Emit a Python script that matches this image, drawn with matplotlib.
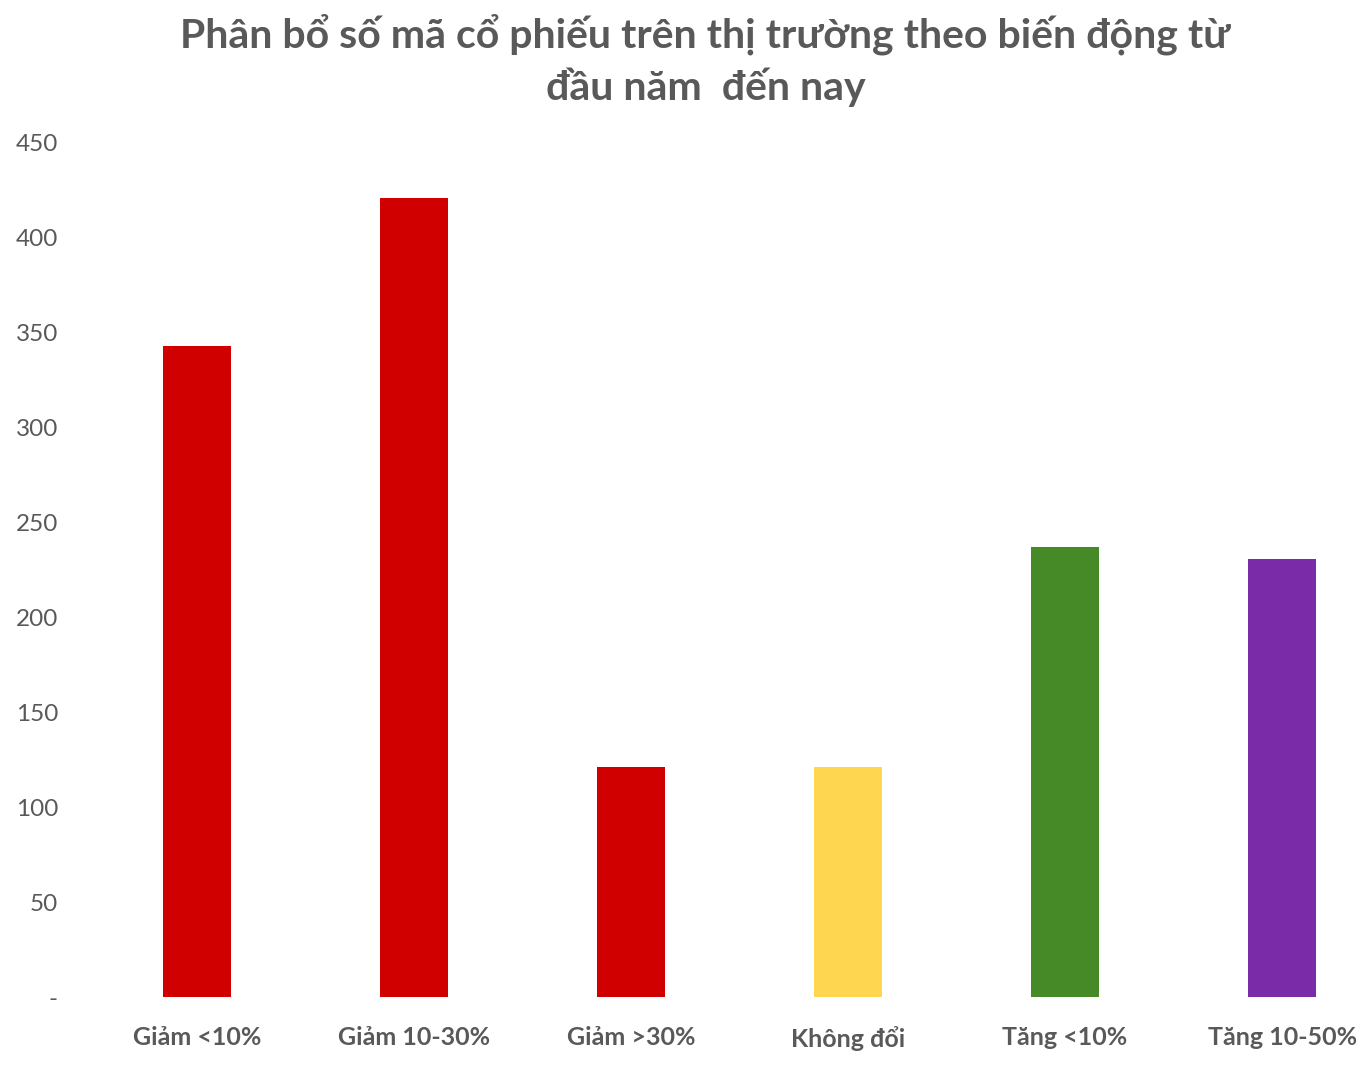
import matplotlib
matplotlib.use("Agg")
import matplotlib.pyplot as plt

categories = ["Giảm <10%", "Giảm 10-30%", "Giảm >30%", "Không đổi", "Tăng <10%", "Tăng 10-50%"]
counts = [343, 421, 121, 121, 237, 231]
bar_colors = ["#D00000", "#D00000", "#D00000", "#FFD64F", "#458A26", "#7A2BA8"]
yticks = [0, 50, 100, 150, 200, 250, 300, 350, 400, 450]
ytick_labels = ["-"] + [str(v) for v in yticks[1:]]

plt.rcParams["font.family"] = ["Lato", "DejaVu Sans"]
grey = "#595959"

fig = plt.figure(figsize=(13.7, 10.66), dpi=100)
ax = fig.add_axes([0.0646, 0.0647, 0.9354, 0.8012])

x = range(len(categories))
ax.bar(x, counts, width=0.31, color=bar_colors)

ax.set_xlim(-0.5, 5.405)
ax.set_ylim(0, 450)
ax.set_xticks(list(x))
ax.set_xticklabels(categories, fontsize=18, fontweight="bold", color=grey)
ax.set_yticks(yticks)
ax.set_yticklabels(ytick_labels, fontsize=17.5, color=grey)
ax.tick_params(axis="y", length=0, pad=22)
ax.tick_params(axis="x", length=0, pad=21)
for s in ax.spines.values():
    s.set_visible(False)

fig.text(0.515, 0.987, "Phân bổ số mã cổ phiếu trên thị trường theo biến động từ\nđầu năm  đến nay",
         ha="center", va="top", fontsize=29.5, fontweight="bold", color=grey, linespacing=1.38)

fig.savefig("out.png", dpi=100)
